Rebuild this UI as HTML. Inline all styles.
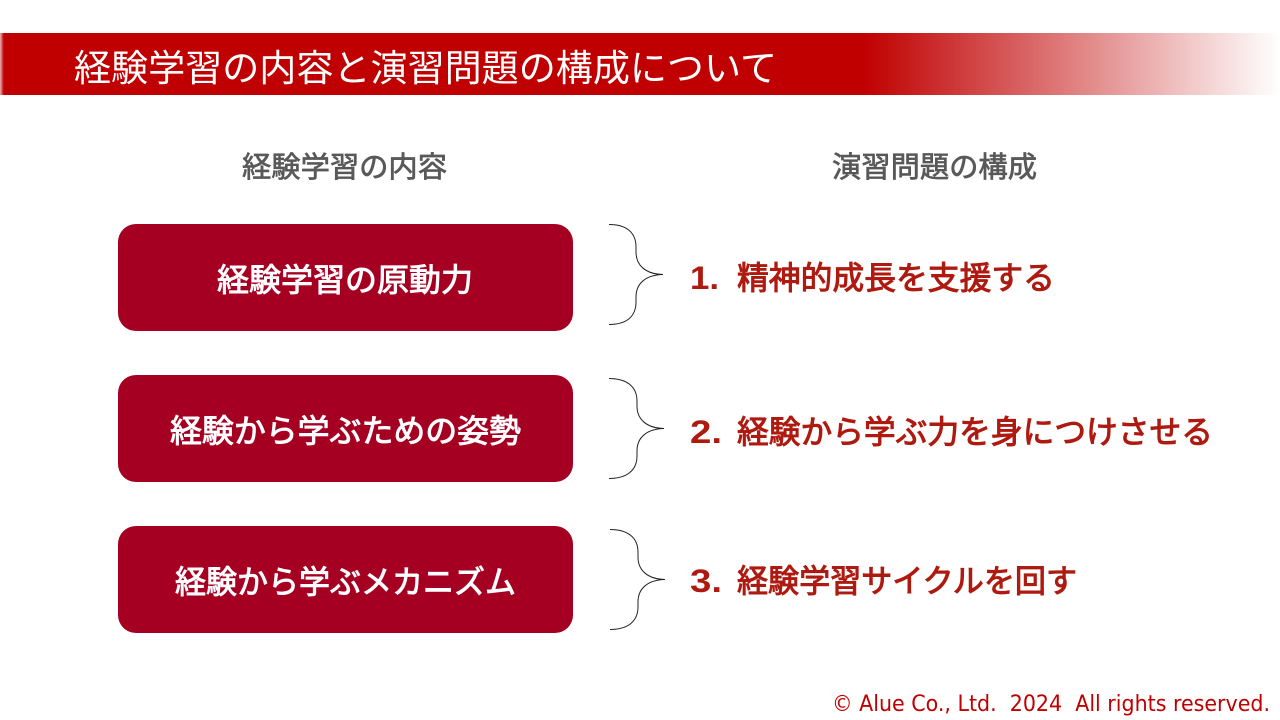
<!DOCTYPE html>
<html lang="ja"><head><meta charset="utf-8"><title>経験学習の内容と演習問題の構成について</title>
<style>html,body{margin:0;padding:0;background:#fff}svg{display:block}
text{font-family:"Liberation Sans","Noto Sans CJK JP",sans-serif}</style></head>
<body>
<svg width="1280" height="720" viewBox="0 0 1280 720" xmlns="http://www.w3.org/2000/svg">
<defs><linearGradient id="g" x1="0" x2="1" y1="0" y2="0">
<stop offset="0" stop-color="#c00000" stop-opacity="0.3"/><stop offset="0.003" stop-color="#c00000"/>
<stop offset="0.675" stop-color="#c00000"/><stop offset="1" stop-color="#c00000" stop-opacity="0"/></linearGradient></defs>
<rect x="0" y="33" width="1280" height="62" fill="url(#g)"/>
<text x="74" y="81" font-size="37" fill="#fff" textLength="703" lengthAdjust="spacingAndGlyphs">経験学習の内容と演習問題の構成について</text>
<g stroke="#595959" stroke-width="0.7">
<text x="242" y="177" font-size="29" fill="#595959" textLength="205" lengthAdjust="spacingAndGlyphs">経験学習の内容</text>
<text x="832" y="177" font-size="29" fill="#595959" textLength="205" lengthAdjust="spacingAndGlyphs">演習問題の構成</text>
</g>

<rect x="118" y="224" width="455" height="107" rx="18" fill="#a50021"/>
<rect x="118" y="375" width="455" height="107" rx="18" fill="#a50021"/>
<rect x="118" y="526" width="455" height="107" rx="18" fill="#a50021"/>
<g stroke="#fff" stroke-width="0.9">
<text x="217" y="291" font-size="32" fill="#fff" textLength="256" lengthAdjust="spacingAndGlyphs">経験学習の原動力</text>
<text x="170" y="442" font-size="32" fill="#fff" textLength="351" lengthAdjust="spacingAndGlyphs">経験から学ぶための姿勢</text>
<text x="175" y="593" font-size="32" fill="#fff" textLength="341" lengthAdjust="spacingAndGlyphs">経験から学ぶメカニズム</text>
</g>

<g fill="none" stroke="#222" stroke-width="1">
<path d="M609 224.5C626 224.500 636 232 636 247V252C636 265 645 274 663 274.500C645 275 636 284 636 297V302C636 317 626 324.500 609 324.500"/>
<path d="M609 378.500C626 378.500 637 386 637 401V406C637 419 646 428 664 428.500C646 429 637 438 637 451V456C637 471 626 478.500 609 478.500"/>
<path d="M610 529.500C627 529.500 638 537 638 552V557C638 570 647 579 665 579.500C647 580 638 589 638 602V607C638 622 627 629.500 610 629.500"/>
</g>

<g font-size="32" fill="#ae1a10" stroke="#ae1a10" stroke-width="1">
<text x="690" y="289" font-weight="700" stroke="none" textLength="29" lengthAdjust="spacingAndGlyphs">1.</text>
<text x="737" y="289" textLength="318" lengthAdjust="spacingAndGlyphs">精神的成長を支援する</text>
<text x="690" y="443" font-weight="700" stroke="none" textLength="32" lengthAdjust="spacingAndGlyphs">2.</text>
<text x="737" y="443" textLength="476" lengthAdjust="spacingAndGlyphs">経験から学ぶ力を身につけさせる</text>
<text x="690" y="592" font-weight="700" stroke="none" textLength="32" lengthAdjust="spacingAndGlyphs">3.</text>
<text x="737" y="592" textLength="340" lengthAdjust="spacingAndGlyphs">経験学習サイクルを回す</text>
</g>
<text x="832" y="711" font-size="22" fill="#c00000" style="font-family:'DejaVu Sans',sans-serif" textLength="438" lengthAdjust="spacingAndGlyphs" xml:space="preserve">© Alue Co., Ltd.  2024  All rights reserved.</text>
</svg>
</body></html>
